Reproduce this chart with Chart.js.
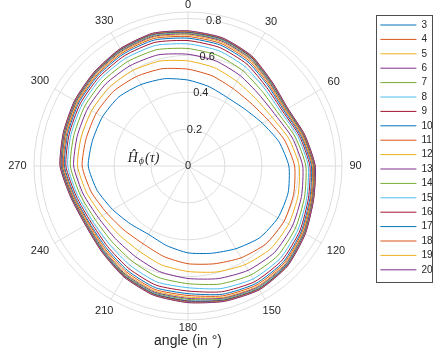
<!DOCTYPE html>
<html>
<head>
<meta charset="utf-8">
<script src="https://cdn.jsdelivr.net/npm/chart.js@4.4.1/dist/chart.umd.min.js"></script>
<style>
  html, body { margin: 0; padding: 0; background: #fff; }
</style>
</head>
<body>
<canvas id="polar" width="436" height="354"></canvas>
<script>
// angles (degrees, clockwise from top) where each curve is sampled
const angles = [0, 15, 30, 45, 60, 75, 90, 105, 120, 135, 150, 165,
                180, 195, 210, 225, 240, 255, 270, 285, 300, 315, 330, 345];
const angleTicks = [0, 30, 60, 90, 120, 150, 180, 210, 240, 270, 300, 330];
const radialTicks = [0, 0.2, 0.4, 0.6, 0.8];
const radialMax = 0.835;

const seriesNames = ['3', '4', '5', '6', '7', '8', '9', '10', '11', '12',
                     '13', '14', '15', '16', '17', '18', '19', '20'];

const s3  = [.466,.445,.428,.436,.465,.510,.547,.562,.563,.550,.518,.490,.471,.447,.428,.443,.472,.510,.541,.536,.535,.530,.510,.490];
const s4  = [.525,.506,.486,.482,.500,.542,.578,.593,.601,.597,.575,.549,.530,.508,.487,.491,.509,.543,.574,.572,.574,.572,.560,.546];
const s5  = [.570,.552,.530,.518,.527,.567,.603,.618,.630,.634,.618,.595,.572,.555,.532,.528,.538,.568,.599,.600,.603,.604,.598,.589];
const s6  = [.606,.589,.566,.546,.549,.586,.622,.637,.653,.663,.653,.632,.610,.593,.568,.557,.561,.588,.620,.622,.627,.630,.628,.624];
const s7  = [.637,.621,.596,.570,.567,.603,.639,.654,.673,.688,.682,.663,.638,.625,.599,.582,.581,.605,.638,.641,.647,.652,.654,.653];
const s8  = [.662,.647,.621,.590,.583,.617,.652,.667,.689,.708,.707,.688,.660,.651,.624,.602,.597,.619,.652,.657,.664,.670,.675,.677];
const s9  = [.680,.665,.638,.603,.593,.626,.661,.676,.701,.722,.724,.706,.678,.669,.642,.617,.608,.628,.662,.667,.675,.682,.690,.694];
const s10 = [.693,.679,.651,.614,.601,.633,.669,.684,.709,.733,.736,.720,.692,.683,.655,.627,.617,.636,.670,.675,.684,.692,.701,.707];
const s11 = [.702,.688,.660,.621,.607,.638,.674,.689,.715,.740,.745,.729,.702,.693,.664,.635,.622,.641,.675,.681,.690,.698,.709,.716];
const s12 = [.710,.696,.667,.627,.611,.642,.678,.693,.720,.746,.753,.737,.711,.701,.672,.641,.627,.645,.679,.686,.695,.703,.715,.723];
const s13 = [.716,.702,.673,.631,.615,.646,.681,.696,.724,.751,.758,.742,.718,.707,.678,.646,.631,.648,.682,.689,.699,.708,.720,.728];
const s14 = [.720,.707,.677,.635,.617,.648,.683,.698,.727,.755,.763,.747,.723,.712,.682,.650,.634,.651,.685,.692,.702,.711,.724,.733];
const s15 = [.724,.710,.681,.638,.619,.650,.685,.700,.729,.757,.766,.751,.729,.715,.686,.652,.636,.653,.687,.694,.704,.713,.727,.736];
const s16 = [.726,.713,.683,.640,.621,.651,.686,.701,.731,.760,.769,.753,.732,.718,.688,.655,.638,.654,.689,.696,.706,.715,.729,.739];
const s17 = [.728,.715,.686,.641,.622,.653,.688,.703,.732,.761,.771,.755,.736,.720,.690,.656,.639,.655,.690,.697,.707,.717,.731,.741];
const s18 = [.730,.717,.687,.643,.623,.654,.689,.704,.733,.763,.772,.757,.738,.722,.692,.658,.640,.657,.692,.698,.708,.718,.733,.742];
const s19 = [.732,.719,.689,.644,.624,.654,.689,.704,.734,.764,.774,.759,.740,.724,.694,.659,.641,.657,.693,.699,.709,.719,.734,.744];
const s20 = [.733,.720,.690,.645,.625,.655,.690,.705,.735,.765,.775,.760,.741,.725,.695,.660,.642,.658,.694,.700,.710,.720,.735,.745];

const seriesValues = [s3, s4, s5, s6, s7, s8, s9, s10, s11, s12, s13, s14, s15, s16, s17, s18, s19, s20];

const colors = ['#0072BD', '#D95319', '#EDB120', '#7E2F8E', '#77AC30', '#4DBEEE', '#A2142F'];
const textColor = '#262626';
const gridColor = '#dedede';
const sans = "'Liberation Sans', Arial, sans-serif";

Chart.defaults.font.family = sans;
Chart.defaults.color = textColor;

const legendFont = 10;
const legendPad = 4.4;

// tick labels on the radial axis, the angle labels round the rim and the r label
const polarText = {
    id: 'polarText',
    afterDraw(chart) {
        const scale = chart.scales.r;
        const ctx = chart.ctx;
        ctx.save();
        ctx.fillStyle = textColor;
        ctx.font = '11px ' + sans;
        ctx.textAlign = 'center';
        ctx.textBaseline = 'middle';

        const tickAngle = (10 * Math.PI / 180) - Math.PI / 2;
        radialTicks.forEach(v => {
            const d = scale.getDistanceFromCenterForValue(v);
            ctx.fillText(String(v), scale.xCenter + Math.cos(tickAngle) * d, scale.yCenter + Math.sin(tickAngle) * d);
        });

        angleTicks.forEach(a => {
            const idx = angles.indexOf(a);
            const text = String(a);
            const w = ctx.measureText(text).width;
            const rad = a * Math.PI / 180;
            const s = Math.abs(Math.sin(rad));
            const extent = s * w / 2 + Math.abs(Math.cos(rad)) * 4;
            const pos = scale.getPointPosition(idx, scale.drawingArea + 3.5 + 4 * s + extent);
            ctx.fillText(text, pos.x, pos.y);
        });

        // r axis label  H-hat sub phi (tau)
        const cx = scale.xCenter - 44;
        const cy = scale.yCenter - 8;
        const big = 'italic 14px "Liberation Serif", "DejaVu Serif", serif';
        const small = 'italic 10px "Liberation Serif", "DejaVu Serif", serif';
        const parts = [['\u0124', big, 0], ['\u03d5', small, 3], ['(\u03c4)', big, 0]];
        let total = 0;
        parts.forEach(p => { ctx.font = p[1]; total += ctx.measureText(p[0]).width + 1; });
        let x = cx - total / 2;
        ctx.textAlign = 'left';
        parts.forEach(p => {
            ctx.font = p[1];
            ctx.fillText(p[0], x, cy + p[2]);
            x += ctx.measureText(p[0]).width + 1;
        });
        ctx.restore();
    }
};

// push the legend down a little and draw a frame round it
const legendFrame = {
    id: 'legendFrame',
    afterLayout(chart) {
        chart.legend.top += 3.6;
        chart.legend.bottom += 3.6;
    },
    afterDraw(chart) {
        const lg = chart.legend;
        const ctx = chart.ctx;
        const n = seriesNames.length;
        const h = legendPad + (n - 1) * (legendFont + legendPad) + legendFont + 8;
        ctx.save();
        ctx.strokeStyle = '#4d4d4d';
        ctx.lineWidth = 1;
        ctx.strokeRect(Math.round(lg.left) + 0.5, Math.round(lg.top) - 0.5, 56, Math.round(h));
        ctx.restore();
    }
};

new Chart(document.getElementById('polar'), {
    type: 'radar',
    data: {
        labels: angles,
        datasets: seriesValues.map((vals, i) => ({
            label: seriesNames[i],
            data: vals,
            borderColor: colors[i % colors.length],
            backgroundColor: colors[i % colors.length],
            borderWidth: 1,
            pointRadius: 0,
            pointHoverRadius: 0,
            fill: false,
            tension: 0.2,
            order: seriesValues.length - 1 - i
        }))
    },
    options: {
        responsive: false,
        animation: false,
        events: [],
        layout: {
            padding: { left: -13, top: 12, right: 0, bottom: 0 }
        },
        scales: {
            r: {
                min: 0,
                max: radialMax,
                afterBuildTicks: (scale) => {
                    scale.ticks = radialTicks.concat([radialMax]).map(v => ({ value: v }));
                },
                ticks: { display: false },
                grid: { circular: true, color: gridColor, lineWidth: 1 },
                angleLines: {
                    color: gridColor,
                    lineWidth: (c) => (angleTicks.includes(angles[c.index]) ? 1 : 0)
                },
                pointLabels: { display: false }
            }
        },
        plugins: {
            legend: {
                position: 'right',
                align: 'start',
                maxWidth: 60,
                labels: {
                    usePointStyle: true,
                    pointStyle: 'line',
                    pointStyleWidth: 36,
                    padding: legendPad,
                    color: textColor,
                    font: { size: legendFont },
                    sort: (a, b) => a.datasetIndex - b.datasetIndex
                }
            },
            title: {
                display: true,
                position: 'bottom',
                fullSize: false,
                text: 'angle (in \u00b0)',
                color: textColor,
                font: { size: 14, weight: 'normal' },
                padding: { top: 12.6, bottom: 4.6 }
            },
            tooltip: { enabled: false }
        }
    },
    plugins: [polarText, legendFrame]
});
</script>
</body>
</html>
